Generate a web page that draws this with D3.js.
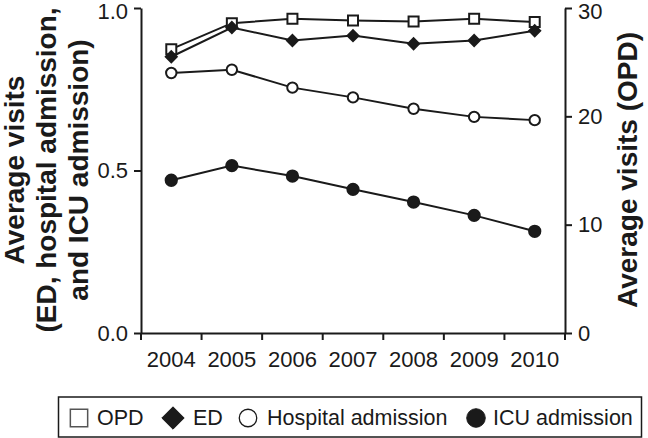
<!DOCTYPE html>
<html>
<head>
<meta charset="utf-8">
<script src="https://cdn.jsdelivr.net/npm/d3@7"></script>
<style>
  body { margin: 0; background: #fff; }
  svg text { font-family: "Liberation Sans", Arial, sans-serif; fill: #1a1a1a; }
</style>
</head>
<body>
<div id="chart"></div>
<script>
const years = ["2004", "2005", "2006", "2007", "2008", "2009", "2010"]
const opd = [26.2, 28.6, 29.0, 28.85, 28.75, 29.0, 28.7]          // right axis
const ed = [0.85, 0.94, 0.90, 0.915, 0.89, 0.90, 0.93]            // left axis
const hospital = [0.80, 0.81, 0.755, 0.725, 0.69, 0.665, 0.655]   // left axis
const icu = [0.47, 0.515, 0.483, 0.442, 0.403, 0.362, 0.313]      // left axis
const leftTicks = [0, 0.5, 1.0]
const rightTicks = [0, 10, 20, 30]

const width = 648
const height = 438
const ink = "#1a1a1a"

// diamond drawn as a square turned 45 degrees
const symbolRhomb = {
    draw: function(context, size) {
        const r = Math.sqrt(size / 2)
        context.moveTo(0, -r)
        context.lineTo(r, 0)
        context.lineTo(0, r)
        context.lineTo(-r, 0)
        context.closePath()
    }
}

const svg = d3.select("#chart")
    .append("svg")
    .attr("width", width)
    .attr("height", height)

const x = d3.scaleBand().domain(years).range([141, 565]).padding(0)
const yL = d3.scaleLinear().domain([0, 1]).range([333, 8])
const yR = d3.scaleLinear().domain([0, 30]).range([333, 8])
const cx = function(d, i) { return x(years[i]) + x.bandwidth() / 2 }

// left axis
const gL = svg.append("g")
    .attr("transform", "translate(141,0)")
    .call(d3.axisLeft(yL).tickValues(leftTicks).tickFormat(d3.format(".1f")).tickSize(7).tickSizeOuter(0).tickPadding(6))
// right axis
const gR = svg.append("g")
    .attr("transform", "translate(565,0)")
    .call(d3.axisRight(yR).tickValues(rightTicks).tickSize(7).tickSizeOuter(0).tickPadding(6))
// bottom axis: labels at band centres, ticks at band edges
const gB = svg.append("g")
    .attr("transform", "translate(0,333)")
    .call(d3.axisBottom(x).tickSize(0).tickPadding(18))
gB.selectAll("tick-edges")
    .data(years.map(function(y) { return x(y) }).concat([x.range()[1]]))
    .enter()
    .append("line")
    .attr("x1", function(d) { return d })
    .attr("x2", function(d) { return d })
    .attr("y1", 0)
    .attr("y2", 7)
    .attr("stroke", ink)
    .attr("stroke-width", 2)

;[gL, gR, gB].forEach(function(g) {
    g.selectAll("path.domain").attr("stroke", ink).attr("stroke-width", 2)
    g.selectAll(".tick line").attr("stroke", ink).attr("stroke-width", 2)
    g.selectAll("text").style("font-size", "22px").attr("fill", ink)
})
// top labels sit a little lower so they stay inside the picture
gL.selectAll(".tick").filter(function(d) { return d === 1 }).select("text").attr("y", 3)
gR.selectAll(".tick").filter(function(d) { return d === 30 }).select("text").attr("y", 3)

// axis titles
const leftTitle = ["Average visits", "(ED, hospital admission,", "and ICU admission)"]
svg.append("g")
    .selectAll("text")
    .data(leftTitle)
    .enter()
    .append("text")
    .attr("transform", function(d, i) { return "translate(" + (24 + i * 32) + ",170) rotate(-90)" })
    .attr("text-anchor", "middle")
    .style("font-size", "28px")
    .style("font-weight", "bold")
    .text(function(d) { return d })

svg.append("text")
    .attr("transform", "translate(637,170) rotate(-90)")
    .attr("text-anchor", "middle")
    .style("font-size", "28px")
    .style("font-weight", "bold")
    .text("Average visits (OPD)")

// series
const series = [
    { name: "OPD", values: opd, y: yR, symbol: d3.symbolSquare, size: 100, fill: "#fff" },
    { name: "ED", values: ed, y: yL, symbol: symbolRhomb, size: 60, fill: ink },
    { name: "Hospital admission", values: hospital, y: yL, symbol: d3.symbolCircle, size: 85, fill: "#fff" },
    { name: "ICU admission", values: icu, y: yL, symbol: d3.symbolCircle, size: 100, fill: ink }
]

const plot = svg.append("g")
series.forEach(function(s) {
    const line = d3.line()
        .x(cx)
        .y(function(d) { return s.y(d) })
    plot.append("path")
        .datum(s.values)
        .attr("d", line)
        .attr("fill", "none")
        .attr("stroke", ink)
        .attr("stroke-width", 2)
})
series.forEach(function(s) {
    plot.selectAll("markers")
        .data(s.values)
        .enter()
        .append("path")
        .attr("d", d3.symbol().type(s.symbol).size(s.size))
        .attr("transform", function(d, i) { return "translate(" + cx(d, i) + "," + s.y(d) + ")" })
        .attr("fill", s.fill)
        .attr("stroke", ink)
        .attr("stroke-width", 2)
})

// legend
const legend = svg.append("g")
legend.append("rect")
    .attr("x", 58.5)
    .attr("y", 397)
    .attr("width", 583)
    .attr("height", 40)
    .attr("fill", "#fff")
    .attr("stroke", ink)
    .attr("stroke-width", 1.5)

const legendItems = [
    { s: series[0], mx: 79, tx: 97, size: 300, sw: 1.5, stroke: "#555" },
    { s: series[1], mx: 173, tx: 193, size: 250, sw: 1, stroke: ink },
    { s: series[2], mx: 248, tx: 267, size: 240, sw: 1.3, stroke: ink },
    { s: series[3], mx: 476, tx: 493, size: 270, sw: 1, stroke: ink }
]
legendItems.forEach(function(it) {
    legend.append("path")
        .attr("d", d3.symbol().type(it.s.symbol).size(it.size))
        .attr("transform", "translate(" + it.mx + ",418)")
        .attr("fill", it.s.fill)
        .attr("stroke", it.stroke)
        .attr("stroke-width", it.sw)
    legend.append("text")
        .attr("x", it.tx)
        .attr("y", 425)
        .style("font-size", "21.5px")
        .text(it.s.name)
})
</script>
</body>
</html>
